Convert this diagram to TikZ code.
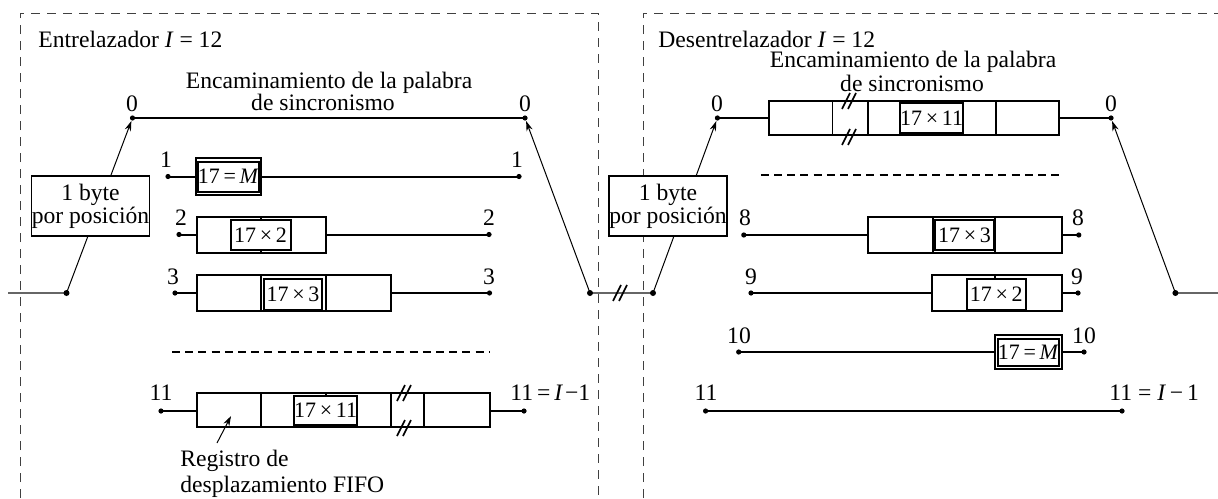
\documentclass[tikz,border=0pt]{standalone}
\usepackage{fontspec}
\setmainfont{Liberation Serif}
\usetikzlibrary{arrows.meta}
\newcommand\brkmark[1]{%
  \draw[line width=0.8pt] ([shift={(-9,8)}]#1) -- ([shift={(-1,-8)}]#1);
  \draw[line width=0.8pt] ([shift={(-3,8)}]#1) -- ([shift={(5,-8)}]#1);}
\begin{document}
\begin{tikzpicture}[x=0.5pt,y=-0.5pt,
  lbl/.style={font=\fontsize{11.8}{11.3}\selectfont, inner sep=0pt},
  wire/.style={line width=1pt},
  feed/.style={line width=0.6pt, black!60},
  arr/.style={line width=0.5pt, -{Stealth[length=5pt,width=3.2pt]}, shorten >=1.6pt},
  cell/.style={draw, line width=0.9pt, fill=white},
  inbox/.style={draw, line width=1pt, fill=white, inner sep=0pt, font=\fontsize{11}{12}\selectfont},
  frame/.style={dash pattern=on 4.5pt off 3.5pt, line width=0.5pt, black!75},
  sepline/.style={dash pattern=on 4pt off 2.6pt, line width=1pt},
  dotc/.style={fill=black}]
\useasboundingbox (0,0) rectangle (1218,498);

% ---------------- frames
\coordinate (FLtl) at (20,13);  \coordinate (FLtr) at (598,13);
\coordinate (FLbl) at (20,498); \coordinate (FLbr) at (598,498);
\coordinate (FRtl) at (643,13); \coordinate (FRtr) at (1218,13);
\coordinate (FRbl) at (643,498);
\draw[frame] (FLbl) -- (FLtl) -- (FLtr) -- (FLbr);
\draw[frame] (FRbl) -- (FRtl) -- (FRtr);

% ---------------- titles
\node[lbl, anchor=base west] (tL) at (38,47.7) {Entrelazador \textit{I} = 12};
\node[lbl, anchor=base west] (tR) at (658,47.7) {Desentrelazador \textit{I} = 12};
\node[lbl, anchor=base] (eL1) at (329,88) {Encaminamiento de la palabra};
\node[lbl, anchor=base] (eL2) at (323,110) {de sincronismo};
\node[lbl, anchor=base] (eR1) at (913,67.5) {Encaminamiento de la palabra};
\node[lbl, anchor=base] (eR2) at (912,91) {de sincronismo};

% ---------------- coordinates (left)
\coordinate (Lin) at (8,293);
\coordinate (Lpiv) at (66.5,293);
\coordinate (L0a) at (132.5,118); \coordinate (L0b) at (525,118);
\coordinate (Lout) at (590,293);
\coordinate (L1a) at (168,176.5); \coordinate (L1b) at (519,176.5);
\coordinate (L2a) at (179,234.5); \coordinate (L2b) at (489,234.5);
\coordinate (L3a) at (175,293);   \coordinate (L3b) at (489.5,293);
\coordinate (L11a) at (161,411);  \coordinate (L11b) at (524,411);
\coordinate (Lsa) at (172,352);   \coordinate (Lsb) at (489.5,352);
% ---------------- coordinates (right)
\coordinate (Rpiv) at (653,293);
\coordinate (Rout) at (1175.4,293); \coordinate (Rend) at (1218,293);
\coordinate (R0a) at (717.4,118);  \coordinate (R0b) at (1111,118);
\coordinate (R8a) at (743.8,235);  \coordinate (R8b) at (1078.8,235);
\coordinate (R9a) at (751,293);    \coordinate (R9b) at (1078,293);
\coordinate (R10a) at (738.7,352); \coordinate (R10b) at (1084,352);
\coordinate (R11a) at (705.6,411); \coordinate (R11b) at (1122,411);
\coordinate (Rsa) at (760.8,175);  \coordinate (Rsb) at (1063,175);

% ---------------- feed lines and commutator arrows
\draw[feed] (Lin) -- (Lpiv);
\draw[feed] (Lout) -- (Rpiv);
\draw[feed] (Rout) -- (Rend);
\coordinate (brkIn) at (622,293);
\brkmark{brkIn}
\draw[arr] (Lpiv) -- (L0a);
\draw[arr] (Lout) -- (L0b);
\draw[arr] (Rpiv) -- (R0a);
\draw[arr] (Rout) -- (R0b);

% ---------------- "1 byte" boxes
\node[draw, line width=0.9pt, fill=white, minimum width=59pt, minimum height=30pt,
      inner sep=0pt, align=center, font=\fontsize{11.8}{11.5}\selectfont] (byteL) at (90.5,206)
      {1 byte\\por posición};
\node[draw, line width=0.9pt, fill=white, minimum width=59pt, minimum height=30pt,
      inner sep=0pt, align=center, font=\fontsize{11.8}{11.5}\selectfont] (byteR) at (668,206)
      {1 byte\\por posición};

% ================= LEFT PANEL rows
\draw[wire] (L0a) -- (L0b);
\draw[wire] (L1a) -- (L1b);
\draw[wire] (L2a) -- (L2b);
\draw[wire] (L3a) -- (L3b);
\draw[wire] (L11a) -- (L11b);
\draw[sepline] (Lsa) -- (Lsb);

% row 1 : double box
\draw[cell] (196,158) rectangle (261,195);
\node[inbox, minimum width=29pt, minimum height=15pt] (mL) at (228.5,176.5) {17\,=\,\textit{M}};

% row 2
\draw[cell] (197,217) rectangle (326,253);
\draw[line width=0.9pt] (261,217) -- (261,253);
\node[inbox, minimum width=30pt, minimum height=15pt] (b2L) at (260.5,235) {17\,×\,2};

% row 3
\draw[cell] (197,275) rectangle (390.6,311);
\draw[line width=0.9pt] (261,275) -- (261,311) (326,275) -- (326,311);
\node[inbox, minimum width=29pt, minimum height=15.5pt] (b3L) at (293,294) {17\,×\,3};

% row 11
\draw[cell] (197,393) rectangle (490,427);
\draw[line width=0.9pt] (261,393) -- (261,427) (326,393) -- (326,427)
      (390.6,393) -- (390.6,427) (424,393) -- (424,427);
\node[inbox, minimum width=29pt, minimum height=14.5pt] (b11L) at (325.6,410.5) {17\,×\,11};
\coordinate (brkLt) at (406,393); \coordinate (brkLb) at (406,428);
\brkmark{brkLt}
\brkmark{brkLb}

% labels left
\node[lbl] (n0La) at (132,104) {0};
\node[lbl] (n0Lb) at (525,104) {0};
\node[lbl] (n1La) at (166,160) {1};
\node[lbl] (n1Lb) at (517,160) {1};
\node[lbl] (n2La) at (181,218) {2};
\node[lbl] (n2Lb) at (489,218) {2};
\node[lbl] (n3La) at (173,277) {3};
\node[lbl] (n3Lb) at (489,277) {3};
\node[lbl] (n11La) at (161,393) {11};
\node[lbl, anchor=west] (n11Lb) at (510,393) {11\,=\,\textit{I}\kern1pt−1};

% FIFO annotation
\node[lbl, anchor=base west] (reg1) at (180,466) {Registro de};
\node[lbl, anchor=base west] (reg2) at (180,492) {desplazamiento FIFO};
\coordinate (regtip) at (231,416);
\coordinate (regtail) at (217,443);
\draw[line width=0.5pt, -{Stealth[length=5pt,width=3.2pt]}] (regtail) -- (regtip);

% ================= RIGHT PANEL rows
\draw[wire] (R0a) -- (R0b);
\draw[wire] (R8a) -- (R8b);
\draw[wire] (R9a) -- (R9b);
\draw[wire] (R10a) -- (R10b);
\draw[wire] (R11a) -- (R11b);
\draw[sepline] (Rsa) -- (Rsb);

% row 0
\draw[cell] (768.7,101) rectangle (1059,135);
\draw[line width=0.9pt] (832.5,101) -- (832.5,135) (868,101) -- (868,135) (996,101) -- (996,135);
\node[inbox, minimum width=30pt, minimum height=15pt] (b0R) at (931.6,118) {17\,×\,11};
\coordinate (brkRt) at (851,101); \coordinate (brkRb) at (851,137);
\brkmark{brkRt}
\brkmark{brkRb}

% row 8
\draw[cell] (868,217) rectangle (1062,253);
\draw[line width=0.9pt] (933,217) -- (933,253) (995,217) -- (995,253);
\node[inbox, minimum width=29.5pt, minimum height=15pt] (b8R) at (964.5,235) {17\,×\,3};

% row 9
\draw[cell] (932,275) rectangle (1062,311);
\draw[line width=0.9pt] (995,275) -- (995,311);
\node[inbox, minimum width=29.3pt, minimum height=15.5pt] (b9R) at (996.3,294) {17\,×\,2};

% row 10 : double box
\draw[cell] (995,335) rectangle (1062,369);
\node[inbox, minimum width=30pt, minimum height=13.5pt] (mR) at (1028.5,352) {17\,=\,\textit{M}};

% labels right
\node[lbl] (n0Ra) at (717,104) {0};
\node[lbl] (n0Rb) at (1111,104) {0};
\node[lbl] (n8Ra) at (745,218) {8};
\node[lbl] (n8Rb) at (1078,218) {8};
\node[lbl] (n9Ra) at (751,277) {9};
\node[lbl] (n9Rb) at (1077,277) {9};
\node[lbl] (n10Ra) at (739,336) {10};
\node[lbl] (n10Rb) at (1084,336) {10};
\node[lbl] (n11Ra) at (706,393) {11};
\node[lbl, anchor=west] (n11Rb) at (1109,393) {11 = \textit{I}\,−\,1};

% ---------------- dots
\foreach \c in {L0a,L0b,L1a,L1b,L2a,L2b,L3a,L3b,L11a,L11b,
                R0a,R0b,R8a,R8b,R9a,R9b,R10a,R10b,R11a,R11b}
  \fill[dotc] (\c) circle (1.3pt);
\foreach \c in {Lpiv,Lout,Rpiv,Rout}
  \fill[dotc] (\c) circle (1.5pt);
\end{tikzpicture}
\end{document}
